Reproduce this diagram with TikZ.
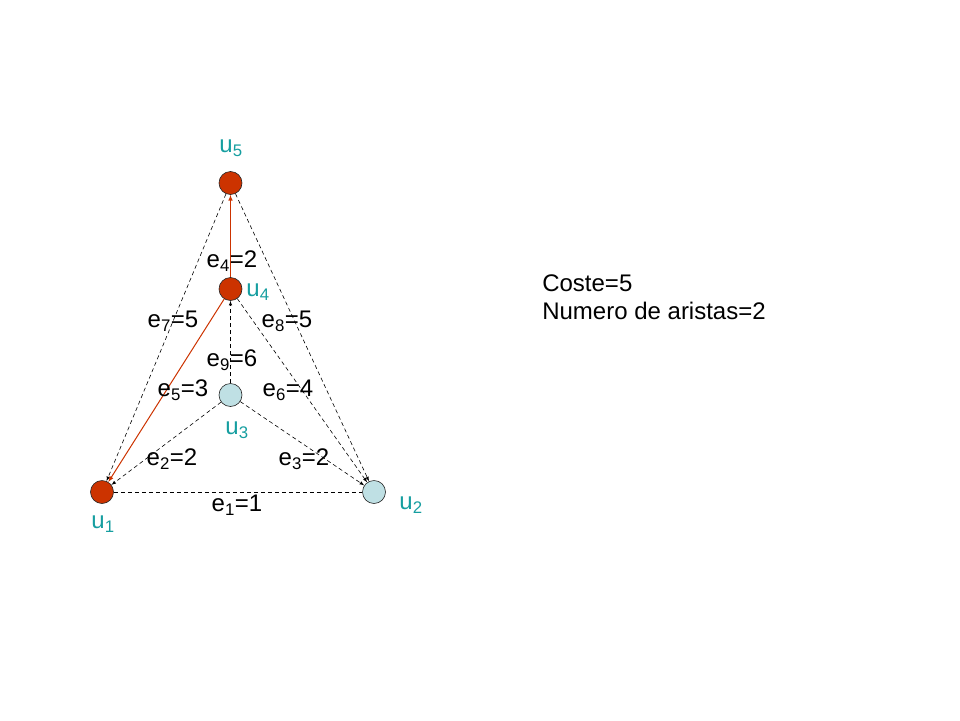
\documentclass[tikz,border=0pt]{standalone}
\usepackage{fontspec}
\setmainfont{Liberation Sans}
\usetikzlibrary{arrows}

\definecolor{verticered}{RGB}{204,51,0}
\definecolor{verticeblue}{RGB}{191,224,228}
\definecolor{labelteal}{RGB}{22,158,160}
\newcommand{\sbi}[1]{\textsubscript{#1}}

\begin{document}
\begin{tikzpicture}[>=latex, x=1pt, y=-1pt, line width=0.6pt,
    vertice/.style={circle, draw=black!85, minimum size=23pt, inner sep=0pt},
    vname/.style={text=labelteal, font=\fontsize{24}{28}\selectfont},
    peso/.style={font=\fontsize{24}{28}\selectfont, inner sep=0pt},
    arista/.style={dashed, dash pattern=on 4pt off 3pt},
    elegida/.style={draw=verticered, line width=1pt}]
    \useasboundingbox (0,0) rectangle (960,720);

    \node[vertice, fill=verticered]  (u5) at (230.5,183) {};
    \node[vertice, fill=verticered]  (u4) at (230.5,289) {};
    \node[vertice, fill=verticeblue] (u3) at (230.5,395) {};
    \node[vertice, fill=verticered]  (u1) at (102,492) {};
    \node[vertice, fill=verticeblue] (u2) at (374,492) {};

    \node[vname] (nu5) at (231,148) {u\sbi{5}};
    \node[vname] (nu4) at (258,292) {u\sbi{4}};
    \node[vname] (nu3) at (237,430) {u\sbi{3}};
    \node[vname] (nu1) at (103,524) {u\sbi{1}};
    \node[vname] (nu2) at (411,505) {u\sbi{2}};

    % aristas sin elegir
    \draw[arista] (u1) -- (u2);
    \foreach \a/\b in {u3/u1, u5/u1, u3/u2, u4/u2, u5/u2, u3/u4} {
        \draw[arista, ->] (\a) -- (\b);
    };
    % arbol
    \draw[elegida, ->] (u4) -- (u1);
    \draw[elegida, ->] (u4) -- (u5);

    \node[peso] (e4) at (232,261) {e\sbi{4}=2};
    \node[peso] (e7) at (173,321) {e\sbi{7}=5};
    \node[peso] (e8) at (287,321) {e\sbi{8}=5};
    \node[peso] (e9) at (232,360) {e\sbi{9}=6};
    \node[peso] (e5) at (183,390) {e\sbi{5}=3};
    \node[peso] (e6) at (288,390) {e\sbi{6}=4};
    \node[peso] (e2) at (172,459) {e\sbi{2}=2};
    \node[peso] (e3) at (304,459) {e\sbi{3}=2};
    \node[peso] (e1) at (237,505) {e\sbi{1}=1};

    \node[peso, anchor=west, align=left] (coste) at (542,297) {Coste=5\\Numero de aristas=2};
\end{tikzpicture}
\end{document}
